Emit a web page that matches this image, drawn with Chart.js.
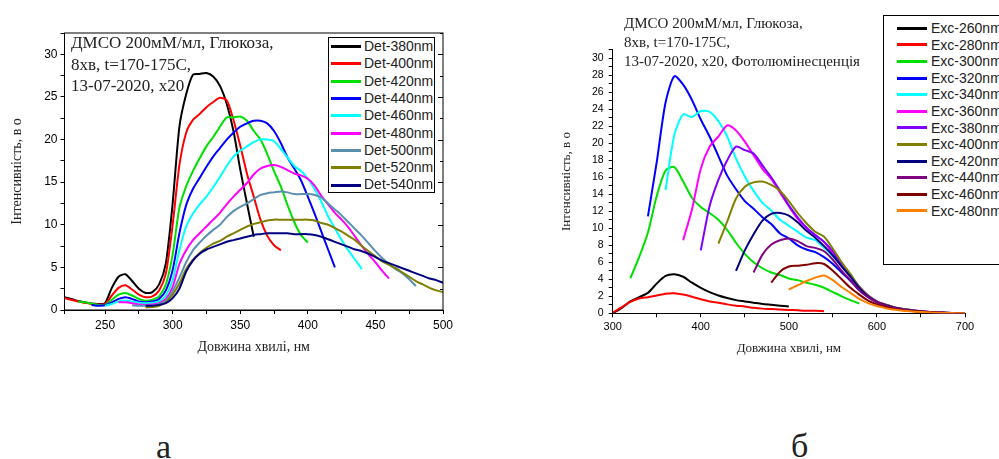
<!DOCTYPE html>
<html>
<head>
<meta charset="utf-8">
<script src="https://cdn.jsdelivr.net/npm/chart.js@4.4.1/dist/chart.umd.min.js"></script>
<style>
  body { margin: 0; background: #fff; width: 999px; height: 459px; overflow: hidden; position: relative; }
  canvas { position: absolute; }
  .note { position: absolute; font-family: 'Liberation Serif', serif; color: #222; white-space: pre; }
  .legend { position: absolute; border: 1px solid #000; background: #fff; font-family: 'Liberation Sans', Arial, sans-serif; font-size: 14px; color: #222; box-sizing: border-box; }
  .legend .row { position: relative; white-space: nowrap; }
  .legend .swatch { position: absolute; height: 3px; }
  .legend .txt { position: absolute; }
  .panel-label { position: absolute; font-family: 'Liberation Serif', serif; font-size: 34px; color: #222; }
</style>
</head>
<body>
<canvas id="detChart" width="470" height="360" style="left:0;top:0"></canvas>
<canvas id="excChart" width="444" height="360" style="left:555px;top:0"></canvas>

<div class="note" style="left:71px;top:32px;font-size:17px;line-height:21.5px">ДМСО 200мМ/мл, Глюкоза,
8хв, t=170-175C,
13-07-2020, x20</div>
<div class="note" style="left:624px;top:14px;font-size:15px;line-height:19px">ДМСО 200мМ/мл, Глюкоза,
8хв, t=170-175C,
13-07-2020, x20, Фотолюмінесценція</div>

<div id="detLegend" class="legend" style="left:328px;top:37px;width:107px;height:156px"></div>
<div id="excLegend" class="legend" style="left:883px;top:15px;width:130px;height:250px"></div>

<div class="panel-label" style="left:156px;top:428px">а</div>
<div class="panel-label" style="left:791px;top:427px">б</div>

<script>
// ---- left panel: detection at fixed wavelength, 5 nm step ----
const detLabels = ['Det-380nm', 'Det-400nm', 'Det-420nm', 'Det-440nm', 'Det-460nm', 'Det-480nm', 'Det-500nm', 'Det-520nm', 'Det-540nm'];
const detColors = ['#000000', '#ff0000', '#00e000', '#0000ff', '#00ffff', '#ff00ff', '#5b8fb0', '#808000', '#000080'];
const detStart = [220, 220, 230, 240, 250, 260, 270, 280, 280];
const detStep = 5;

const det380 = [1.5, 1.3, 1.05, 0.9, 0.75, 0.7, 0.8, 2.6, 3.9, 4.2, 3.4, 2.5, 2.0, 2.1, 3.0, 5.5, 12.5, 21.5, 25.3, 27.6, 27.7, 27.8, 27.4, 26.3, 24.2, 21.0, 16.5, 12.5, 8.6];
const det400 = [1.4, 1.2, 1.0, 0.85, 0.7, 0.65, 0.7, 1.7, 2.6, 2.9, 2.4, 1.8, 1.5, 1.6, 2.3, 4.3, 10.0, 17.0, 20.8, 22.3, 23.0, 23.8, 24.4, 24.9, 24.6, 22.3, 19.3, 16.0, 13.3, 10.6, 8.7, 7.6, 7.0];
const det420 = [1.0, 0.9, 0.75, 0.6, 0.6, 1.2, 1.8, 2.0, 1.7, 1.3, 1.1, 1.2, 1.6, 3.0, 6.5, 12.0, 14.5, 16.3, 17.8, 19.2, 20.3, 21.5, 22.6, 22.6, 22.7, 22.2, 21.0, 20.0, 18.3, 16.3, 14.5, 12.3, 10.3, 8.8, 7.9];
const det440 = [0.6, 0.5, 0.55, 0.9, 1.3, 1.5, 1.3, 1.0, 0.9, 1.0, 1.3, 2.3, 4.7, 9.0, 12.3, 14.2, 15.5, 16.8, 18.0, 19.0, 20.0, 20.8, 21.5, 21.9, 22.2, 22.2, 21.9, 21.0, 19.6, 17.9, 16.6, 15.2, 13.3, 11.3, 9.2, 7.1, 5.0];
const det460 = [0.5, 0.7, 1.0, 1.1, 1.0, 0.85, 0.8, 0.85, 1.0, 1.7, 3.5, 7.0, 9.8, 11.3, 12.4, 13.3, 14.4, 15.6, 16.9, 18.0, 18.7, 19.2, 19.7, 20.0, 20.0, 19.8, 18.9, 17.9, 16.9, 16.3, 15.4, 14.2, 12.7, 11.0, 9.6, 8.2, 7.0, 5.9, 4.8];
const det480 = [0.9, 0.9, 0.8, 0.65, 0.6, 0.65, 0.8, 1.3, 2.7, 5.4, 7.0, 8.2, 9.0, 9.8, 10.6, 11.4, 12.4, 13.3, 14.1, 14.9, 15.9, 16.6, 16.9, 17.0, 16.8, 16.4, 16.0, 15.8, 15.4, 14.6, 13.4, 12.4, 11.4, 10.6, 9.7, 8.6, 7.5, 6.5, 5.6, 4.6, 3.7];
const det500 = [0.55, 0.5, 0.5, 0.5, 0.7, 1.1, 2.2, 3.8, 5.6, 7.0, 7.9, 8.7, 9.4, 10.0, 10.9, 11.6, 12.1, 12.5, 13.0, 13.5, 13.7, 13.8, 13.9, 13.8, 13.6, 13.6, 13.6, 13.5, 13.2, 12.5, 11.8, 11.1, 10.3, 9.5, 8.7, 7.8, 6.9, 6.1, 5.4, 4.8, 4.3, 3.6, 2.8];
const det520 = [0.3, 0.35, 0.5, 0.9, 1.8, 3.1, 4.8, 5.9, 6.7, 7.3, 7.8, 8.1, 8.6, 9.0, 9.4, 9.8, 10.1, 10.3, 10.5, 10.6, 10.6, 10.6, 10.6, 10.6, 10.6, 10.5, 10.2, 10.0, 9.6, 9.2, 8.7, 8.2, 7.5, 6.9, 6.3, 5.7, 5.3, 4.9, 4.4, 3.9, 3.4, 3.0, 2.6, 2.3, 2.1];
const det540 = [0.5, 0.5, 0.6, 0.8, 1.4, 2.5, 4.5, 5.8, 6.6, 7.1, 7.4, 7.7, 8.0, 8.2, 8.4, 8.6, 8.8, 8.9, 9.0, 9.0, 9.0, 9.0, 8.9, 8.9, 8.9, 8.8, 8.6, 8.3, 8.0, 7.7, 7.4, 7.1, 6.9, 6.6, 6.2, 5.8, 5.5, 5.2, 4.9, 4.6, 4.3, 4.0, 3.7, 3.5, 3.2];
const detValues = [det380, det400, det420, det440, det460, det480, det500, det520, det540];

// ---- right panel: excitation at fixed wavelength, 10 nm step ----
const excLabels = ['Exc-260nm', 'Exc-280nm', 'Exc-300nm', 'Exc-320nm', 'Exc-340nm', 'Exc-360nm', 'Exc-380nm', 'Exc-400nm', 'Exc-420nm', 'Exc-440nm', 'Exc-460nm', 'Exc-480nm'];
const excColors = ['#000000', '#ff0000', '#00e000', '#0000ff', '#00ffff', '#ff00ff', '#8000ff', '#808000', '#000080', '#800080', '#800000', '#ff8000'];
const excStart = [300, 300, 320, 340, 360, 380, 400, 420, 440, 460, 480, 500];
const excStep = 10;

const exc260 = [0.0, 0.6, 1.4, 1.9, 2.4, 3.5, 4.4, 4.6, 4.3, 3.6, 3.0, 2.5, 2.1, 1.8, 1.55, 1.4, 1.25, 1.1, 1.0, 0.9, 0.8];
const exc280 = [0.1, 0.7, 1.35, 1.75, 1.9, 2.1, 2.3, 2.35, 2.2, 1.95, 1.65, 1.4, 1.25, 1.05, 0.9, 0.8, 0.65, 0.55, 0.5, 0.45, 0.4, 0.35, 0.3, 0.3, 0.25];
const exc300 = [4.1, 6.6, 9.5, 13.8, 16.8, 17.2, 15.5, 13.6, 12.5, 11.8, 11.0, 9.8, 8.3, 7.0, 6.0, 5.3, 4.8, 4.5, 4.1, 3.9, 3.6, 3.35, 3.0, 2.5, 2.0, 1.55, 1.15];
const exc320 = [11.4, 17.8, 24.8, 27.9, 26.9, 25.1, 22.8, 20.8, 18.5, 16.2, 14.6, 13.2, 12.3, 11.3, 10.5, 9.4, 8.8, 8.0, 7.5, 7.2, 6.6, 5.8, 4.8, 3.8, 2.7, 1.9, 1.3, 0.9, 0.6, 0.45, 0.3, 0.2, 0.13, 0.08, 0.05, 0.03, 0.01];
const exc340 = [14.5, 21.0, 23.4, 23.1, 23.8, 23.7, 22.6, 20.8, 18.2, 16.1, 14.4, 13.0, 12.1, 11.0, 10.3, 9.6, 8.9, 8.6, 7.7, 6.7, 5.7, 4.6, 3.0, 2.0, 1.35, 0.95, 0.65, 0.47, 0.33, 0.22, 0.15, 0.1, 0.06, 0.03, 0.02];
const exc360 = [8.6, 12.2, 17.0, 19.6, 20.8, 22.1, 21.5, 20.2, 18.6, 17.0, 15.8, 14.2, 12.6, 11.1, 10.0, 9.2, 8.4, 7.0, 5.6, 4.3, 3.1, 2.1, 1.4, 1.0, 0.7, 0.5, 0.35, 0.23, 0.15, 0.1, 0.06, 0.03, 0.02];
const exc380 = [7.4, 12.6, 15.7, 18.0, 19.6, 19.2, 18.8, 17.4, 16.0, 14.4, 12.7, 11.3, 10.1, 9.2, 8.4, 7.3, 5.7, 4.5, 3.1, 2.1, 1.4, 1.0, 0.7, 0.5, 0.35, 0.23, 0.15, 0.1, 0.06, 0.03, 0.02];
const exc400 = [8.2, 10.8, 13.5, 14.9, 15.4, 15.5, 15.1, 14.4, 13.2, 11.8, 10.6, 9.6, 9.0, 7.6, 6.0, 4.6, 3.1, 2.1, 1.4, 1.0, 0.7, 0.5, 0.35, 0.23, 0.15, 0.1, 0.06, 0.03, 0.02];
const exc420 = [5.0, 7.4, 9.3, 10.9, 11.7, 11.8, 11.5, 10.7, 9.7, 8.9, 7.9, 6.8, 5.5, 4.3, 3.0, 2.0, 1.35, 0.95, 0.65, 0.45, 0.32, 0.22, 0.14, 0.09, 0.05, 0.03, 0.02];
const exc440 = [4.8, 6.9, 8.1, 8.6, 8.8, 8.5, 7.9, 7.7, 7.3, 6.3, 5.0, 3.9, 2.7, 1.9, 1.3, 0.9, 0.62, 0.44, 0.3, 0.2, 0.13, 0.08, 0.05, 0.03, 0.01];
const exc460 = [3.6, 4.9, 5.5, 5.6, 5.7, 5.9, 5.8, 5.0, 4.0, 3.0, 2.2, 1.5, 1.05, 0.75, 0.52, 0.37, 0.26, 0.17, 0.11, 0.07, 0.04, 0.02, 0.01];
const exc480 = [2.8, 3.3, 3.8, 4.2, 4.45, 3.9, 3.1, 2.4, 1.7, 1.2, 0.85, 0.6, 0.43, 0.3, 0.21, 0.14, 0.09, 0.06, 0.04, 0.02, 0.01];
const excValues = [exc260, exc280, exc300, exc320, exc340, exc360, exc380, exc400, exc420, exc440, exc460, exc480];

Chart.defaults.font.family = "'Liberation Sans', Arial, sans-serif";
Chart.defaults.color = '#000';

function makeDatasets(labels, colors, starts, step, values) {
  return values.map((vals, i) => ({
    label: labels[i],
    data: vals.map((v, j) => ({ x: starts[i] + j * step, y: v })),
    borderColor: colors[i],
    backgroundColor: colors[i],
    borderWidth: 2,
    pointRadius: 0,
    tension: 0.25,
    order: values.length - i   // later series on top, as in the original
  }));
}

function buildLegend(id, labels, colors, rowH, padTop, swLeft, txtLeft) {
  const box = document.getElementById(id);
  labels.forEach((lab, i) => {
    const row = document.createElement('div');
    row.className = 'row';
    row.style.position = 'absolute';
    row.style.top = (padTop + i * rowH) + 'px';
    row.style.height = rowH + 'px';
    row.style.lineHeight = rowH + 'px';
    row.style.left = '0px';
    row.style.width = '100%';
    const sw = document.createElement('span');
    sw.className = 'swatch';
    sw.style.left = swLeft + 'px';
    sw.style.width = '30px';
    sw.style.top = (rowH / 2 - 1.5) + 'px';
    sw.style.background = colors[i];
    const t = document.createElement('span');
    t.className = 'txt';
    t.style.left = txtLeft + 'px';
    t.textContent = lab;
    row.appendChild(sw);
    row.appendChild(t);
    box.appendChild(row);
  });
}

// box around the left plot with small inward ticks on the right side
const framePlugin = {
  id: 'frame',
  afterDraw(chart) {
    const { ctx, chartArea: a, scales } = chart;
    ctx.save();
    ctx.strokeStyle = '#000';
    ctx.lineWidth = 1;
    ctx.strokeRect(a.left, a.top, a.right - a.left, a.bottom - a.top);
    scales.y.ticks.forEach(t => {
      const py = Math.round(scales.y.getPixelForValue(t.value)) + 0.5;
      ctx.beginPath();
      ctx.moveTo(a.right, py);
      ctx.lineTo(a.right - (t.label !== '' ? 5 : 3), py);
      ctx.stroke();
    });
    ctx.restore();
  }
};

const serif = "'Liberation Serif', 'Times New Roman', serif";

new Chart(document.getElementById('detChart'), {
  type: 'line',
  data: { datasets: makeDatasets(detLabels, detColors, detStart, detStep, detValues) },
  options: {
    responsive: false,
    animation: false,
    layout: { padding: { top: 33, right: 27, left: 0, bottom: 0 } },
    plugins: { legend: { display: false }, tooltip: { enabled: false } },
    scales: {
      x: {
        type: 'linear', min: 220, max: 500,
        ticks: { stepSize: 25, font: { size: 12 }, padding: 4, maxRotation: 0, autoSkip: false,
          callback: v => (v % 50 === 0 ? v : '') },
        grid: { drawOnChartArea: false, tickLength: 4, color: '#000' },
        border: { color: '#000' },
        title: { display: true, text: 'Довжина хвилі, нм', font: { family: serif, size: 14 }, color: '#222', padding: { top: 0, bottom: 4 } },
        afterFit: s => { s.height = 50; }
      },
      y: {
        min: 0, max: 32.5,
        ticks: { stepSize: 2.5, font: { size: 12 }, padding: 3, autoSkip: false,
          callback: v => (v % 5 === 0 ? v : '') },
        grid: { drawOnChartArea: false, tickLength: 4, color: '#000' },
        border: { color: '#000' },
        title: { display: true, text: 'Інтенсивність, в о', font: { family: serif, size: 14 }, color: '#222', padding: { top: 9, bottom: 0 } },
        afterFit: s => { s.width = 64.5; }
      }
    }
  },
  plugins: [framePlugin]
});

new Chart(document.getElementById('excChart'), {
  type: 'line',
  data: { datasets: makeDatasets(excLabels, excColors, excStart, excStep, excValues) },
  options: {
    responsive: false,
    animation: false,
    layout: { padding: { top: 49.8, right: 34, left: 0, bottom: 0 } },
    plugins: { legend: { display: false }, tooltip: { enabled: false } },
    scales: {
      x: {
        type: 'linear', min: 300, max: 700,
        ticks: { stepSize: 50, font: { size: 11 }, padding: 3, maxRotation: 0, autoSkip: false,
          callback: v => (v % 100 === 0 ? v : '') },
        grid: { drawOnChartArea: false, tickLength: 4, color: '#000' },
        border: { color: '#000' },
        title: { display: true, text: 'Довжина хвилі, нм', font: { family: serif, size: 13 }, color: '#222', padding: { top: 0, bottom: 4 } },
        afterFit: s => { s.height = 46.7; }
      },
      y: {
        min: 0, max: 31,
        ticks: { stepSize: 1, font: { size: 10.5 }, padding: 5, autoSkip: false,
          callback: v => (v % 2 === 0 ? v : '') },
        grid: { drawOnChartArea: false, tickLength: 4, color: '#000' },
        border: { color: '#000' },
        title: { display: true, text: 'Інтенсивність, в о', font: { family: serif, size: 13 }, color: '#222', padding: { top: 4, bottom: 0 } },
        afterFit: s => { s.width = 57.7; }
      }
    }
  }
});

buildLegend('detLegend', detLabels, detColors, 17.3, 0, 2, 35);
buildLegend('excLegend', excLabels, excColors, 16.6, 4, 13, 47);
</script>
</body>
</html>
